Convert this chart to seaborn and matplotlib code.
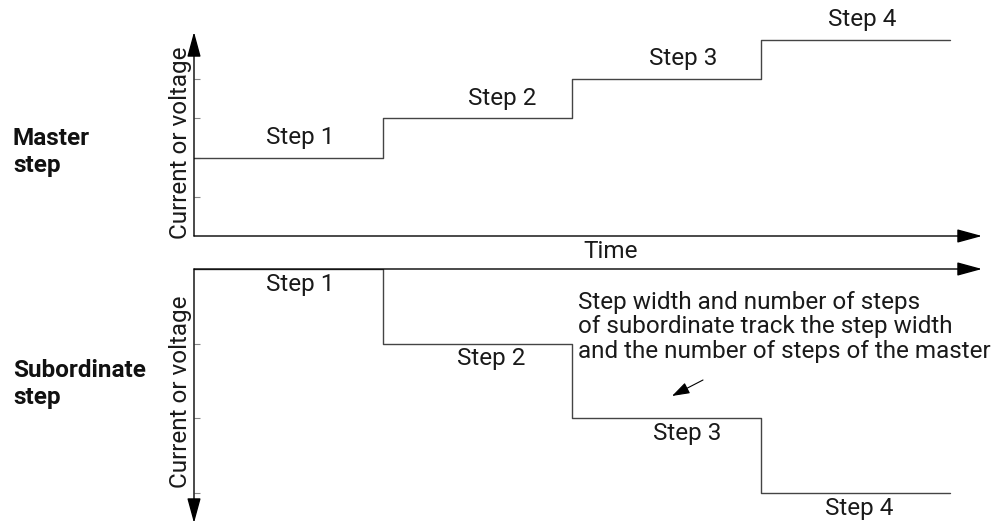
import numpy as np
import pandas as pd
import matplotlib
matplotlib.use("Agg")
import matplotlib.pyplot as plt
import seaborn as sns

# step data (x = time in step widths, y = level in tick units)
step_times = [0, 1, 2, 3, 4]
master_levels = [2, 3, 4, 5, 5]
sub_levels = [0, -1, -2, -3, -3]
step_names = ["Step 1", "Step 2", "Step 3", "Step 4"]
master_label_x = [0.56, 1.63, 2.59, 3.535]
sub_label_x = [0.56, 1.57, 2.61, 3.52]
master_ticks = [1, 2, 3, 4]
sub_ticks = [-1, -2, -3]

sns.set_theme(style="white")
plt.rcParams["font.family"] = ["Roboto", "DejaVu Sans"]

W, H = 999, 525
fig = plt.figure(figsize=(W / 100, H / 100), dpi=100)
FS = 17.5
TXT = dict(fontsize=FS, color="#1a1a1a", fontweight="normal")


def px(x, y):
    # pixel position (from top-left) -> figure fraction
    return x / W, 1 - y / H


def make_axes(left, top, right, bottom):
    l, t = px(left, top)
    r, b = px(right, bottom)
    ax = fig.add_axes([l, b, r - l, t - b])
    ax.set_facecolor("none")
    for s in ax.spines.values():
        s.set_visible(False)
    ax.tick_params(axis="y", direction="in", length=4, width=0.8, colors="#888888",
                   labelleft=False, left=True)
    ax.tick_params(axis="x", bottom=False, labelbottom=False)
    return ax


def arrow(ax, start, end, line_color):
    ax.annotate("", xy=end, xytext=start, annotation_clip=False,
                arrowprops=dict(arrowstyle="-|>,head_length=1.1,head_width=0.3",
                                mutation_scale=14, lw=1.0, color=line_color,
                                fc="black", ec="black", shrinkA=0, shrinkB=0))


unit_x = 189.0
x_end = (982 - 194) / unit_x

# master step panel
ax1 = make_axes(194, 32, 982, 236)
m_df = pd.DataFrame({"t": step_times, "v": master_levels})
sns.lineplot(data=m_df, x="t", y="v", ax=ax1, drawstyle="steps-post",
             color="#444444", lw=1.0)
ax1.set_xlim(0, x_end)
ax1.set_ylim(0, (236 - 32) / 39.25)
ax1.set_yticks(master_ticks)
ax1.set_xlabel("")
ax1.set_ylabel("")
arrow(ax1, (0, 0), (x_end, 0), "#222222")
arrow(ax1, (0, 0), (0, (236 - 32) / 39.25), "#222222")
for name, lx, lv in zip(step_names, master_label_x, master_levels):
    ax1.annotate(name, xy=(lx, lv), xytext=(0, 14.5), textcoords="offset points",
                 ha="center", va="center", **TXT)

# subordinate step panel
ax2 = make_axes(194, 269, 982, 523)
s_df = pd.DataFrame({"t": step_times, "v": sub_levels})
sns.lineplot(data=s_df, x="t", y="v", ax=ax2, drawstyle="steps-post",
             color="#444444", lw=1.0, zorder=3)
ax2.set_xlim(0, x_end)
ax2.set_ylim(-(523 - 269) / 74.7, 0)
ax2.set_yticks(sub_ticks)
ax2.set_xlabel("")
ax2.set_ylabel("")
arrow(ax2, (0, 0), (x_end, 0), "#aaaaaa")
arrow(ax2, (0, 0), (0, -(523 - 269) / 74.7), "#222222")
for name, lx, lv in zip(step_names, sub_label_x, sub_levels):
    ax2.annotate(name, xy=(lx, lv), xytext=(0, -11), textcoords="offset points",
                 ha="center", va="center", **TXT)

# free text
fig.text(*px(611, 252), "Time", ha="center", va="center", **TXT)
fig.text(*px(181, 143), "Current or voltage", rotation=90, ha="center", va="center", **TXT)
fig.text(*px(181, 392), "Current or voltage", rotation=90, ha="center", va="center", **TXT)
fig.text(*px(13, 152), "Master\nstep", ha="left", va="center", fontsize=FS,
         fontweight="bold", color="#111111", linespacing=1.2)
fig.text(*px(13, 384), "Subordinate\nstep", ha="left", va="center", fontsize=FS,
         fontweight="bold", color="#111111", linespacing=1.2)
fig.text(*px(578, 327),
         "Step width and number of steps\nof subordinate track the step width\n"
         "and the number of steps of the master",
         ha="left", va="center", linespacing=1.1, **TXT)
fig.add_artist(matplotlib.patches.FancyArrowPatch(
    px(703, 380), px(672, 396), transform=fig.transFigure,
    arrowstyle="-|>,head_length=0.9,head_width=0.3", mutation_scale=12,
    lw=0.8, color="black", shrinkA=0, shrinkB=0))

fig.savefig("out.png", dpi=100)
